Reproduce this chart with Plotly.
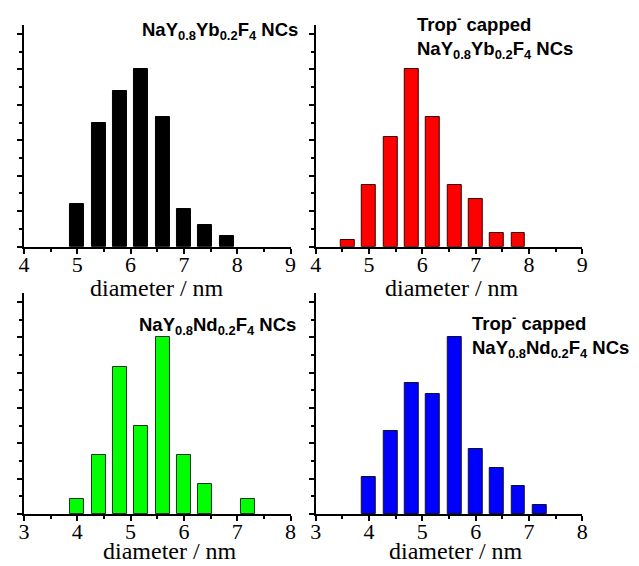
import plotly.graph_objects as go

W, H = 639, 566

# ---- data (normalised frequency) ----
yb_x = [5.0, 5.4, 5.8, 6.2, 6.6, 7.0, 7.4, 7.8]
yb_y = [0.24, 0.70, 0.88, 1.00, 0.73, 0.21, 0.12, 0.06]

yb_trop_x = [4.6, 5.0, 5.4, 5.8, 6.2, 6.6, 7.0, 7.4, 7.8]
yb_trop_y = [0.04, 0.35, 0.62, 1.00, 0.73, 0.35, 0.27, 0.08, 0.08]

nd_x = [4.0, 4.4, 4.8, 5.2, 5.6, 6.0, 6.4, 7.2]
nd_y = [0.083, 0.333, 0.833, 0.50, 1.00, 0.333, 0.167, 0.083]

nd_trop_x = [4.0, 4.4, 4.8, 5.2, 5.6, 6.0, 6.4, 6.8, 7.2]
nd_trop_y = [0.21, 0.47, 0.74, 0.68, 1.00, 0.37, 0.26, 0.16, 0.05]

titles = [
    "NaY<sub>0.8</sub>Yb<sub>0.2</sub>F<sub>4</sub> NCs",
    "Trop<sup>-</sup> capped<br>NaY<sub>0.8</sub>Yb<sub>0.2</sub>F<sub>4</sub> NCs",
    "NaY<sub>0.8</sub>Nd<sub>0.2</sub>F<sub>4</sub> NCs",
    "Trop<sup>-</sup> capped<br>NaY<sub>0.8</sub>Nd<sub>0.2</sub>F<sub>4</sub> NCs",
]
xlabel = "diameter / nm"

BAR_W = 0.26

fig = go.Figure()

def px_x(p):
    return p / W

def px_y(p):
    return 1 - p / H

# panel geometry in pixels (left, right, top, bottom)
panels = [
    (18.3, 290.0, 25.0, 246.7),
    (315.7, 587.3, 25.0, 246.7),
    (18.3, 290.0, 293.0, 514.0),
    (315.7, 587.3, 293.0, 514.0),
]
xranges = [[4, 9], [4, 9], [3, 8], [3, 8]]
standoffs = [-8, -8, -8, -8]
series = [
    (yb_x, yb_y, "#000000", "#000000"),
    (yb_trop_x, yb_trop_y, "#ff0000", "#3a0000"),
    (nd_x, nd_y, "#00ff00", "#1a301a"),
    (nd_trop_x, nd_trop_y, "#0000ff", "#101030"),
]

for i, ((l, r, t, b), xr, so, (xs, ys, fc, lc)) in enumerate(zip(panels, xranges, standoffs, series)):
    n = i + 1
    xa = "x" if n == 1 else f"x{n}"
    ya = "y" if n == 1 else f"y{n}"
    fig.add_trace(go.Bar(x=xs, y=ys, width=BAR_W, xaxis=xa, yaxis=ya,
                         marker=dict(color=fc, line=dict(color=lc, width=1)),
                         showlegend=False))
    axx = dict(domain=[px_x(l), px_x(r)], range=xr, anchor=ya,
               showline=True, linecolor="black", linewidth=2,
               ticks="outside", ticklen=5, tickwidth=2, tickcolor="black",
               dtick=1, tick0=0, showgrid=False, zeroline=False,
               ticklabelstandoff=so,
               tickfont=dict(family="Liberation Serif", size=22, color="black"),
               minor=dict(ticks="outside", ticklen=3, tickwidth=1.5, dtick=0.5,
                          tickcolor="black", showgrid=False))
    axy = dict(domain=[px_y(b), px_y(t)], range=[0, 1.25], anchor=xa,
               showline=True, linecolor="black", linewidth=2,
               ticks="outside", ticklen=5, tickwidth=2, tickcolor="black",
               dtick=0.2, tick0=0, showticklabels=False, showgrid=False,
               zeroline=False,
               minor=dict(ticks="outside", ticklen=3, tickwidth=1.5, dtick=0.1,
                          tickcolor="black", showgrid=False))
    fig.layout[f"xaxis{'' if n == 1 else n}"] = axx
    fig.layout[f"yaxis{'' if n == 1 else n}"] = axy

ann = []
label_pos = [(154, 288), (455, 288), (167, 551), (459, 551)]
for (x, y) in label_pos:
    ann.append(dict(text=xlabel, x=px_x(x), y=px_y(y), xref="paper", yref="paper",
                    xanchor="center", yanchor="middle", showarrow=False,
                    borderpad=0,
                    font=dict(family="Liberation Serif", size=24, color="black")))

title_font = dict(family="Liberation Sans", size=18.5, color="black")
ann.append(dict(text="<b>" + titles[0] + "</b>", x=px_x(300), y=px_y(17),
                xref="paper", yref="paper", xanchor="right", yanchor="top",
                align="right", showarrow=False, font=title_font))
ann.append(dict(text="<b>" + titles[1] + "</b>", x=px_x(417), y=px_y(9),
                xref="paper", yref="paper", xanchor="left", yanchor="top",
                align="left", showarrow=False, font=title_font))
ann.append(dict(text="<b>" + titles[2] + "</b>", x=px_x(298), y=px_y(312),
                xref="paper", yref="paper", xanchor="right", yanchor="top",
                align="right", showarrow=False, font=title_font))
ann.append(dict(text="<b>" + titles[3] + "</b>", x=px_x(473), y=px_y(308),
                xref="paper", yref="paper", xanchor="left", yanchor="top",
                align="left", showarrow=False, font=title_font))

fig.update_layout(width=W, height=H, margin=dict(l=0, r=0, t=0, b=0),
                  paper_bgcolor="white", plot_bgcolor="white",
                  annotations=ann, bargap=0)

fig.write_html("out.html", config={"displayModeBar": False},
               post_script="document.body.style.margin='0px';document.body.style.padding='0px';")
